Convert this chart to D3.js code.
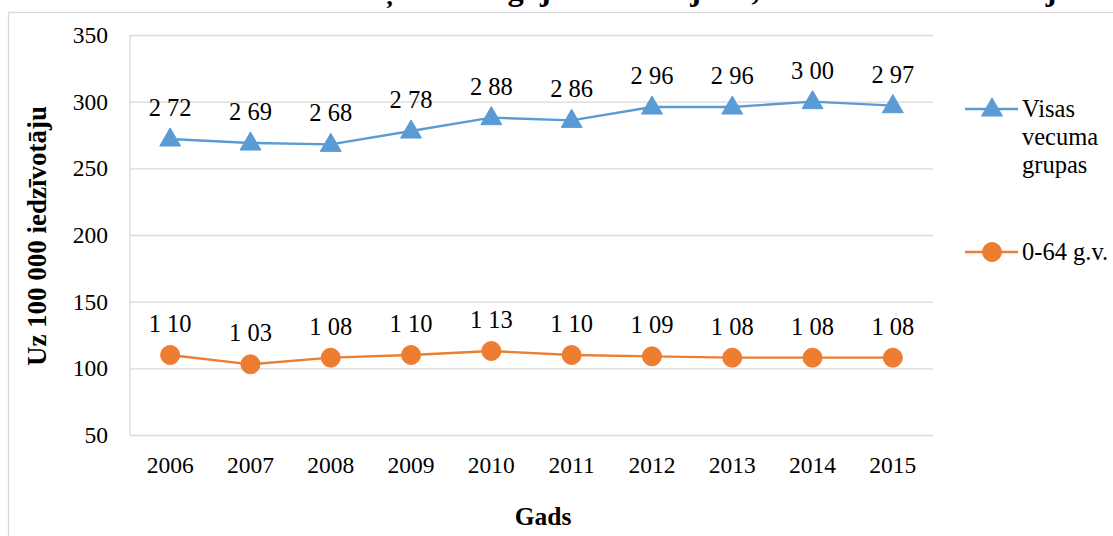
<!DOCTYPE html>
<html>
<head>
<meta charset="utf-8">
<script src="https://cdn.jsdelivr.net/npm/d3@7"></script>
<style>
  html, body { margin: 0; padding: 0; background: #fff; overflow: hidden; }
  svg { display: block; font-family: "Liberation Serif", "Times New Roman", serif; }
</style>
</head>
<body>
<svg id="chart" width="1113" height="536"></svg>
<script>
// Mortality per 100 000 inhabitants, by year
const years = ["2006", "2007", "2008", "2009", "2010", "2011", "2012", "2013", "2014", "2015"];
const allAges = [272, 269, 268, 278, 288, 286, 296, 296, 300, 297];
const allAgesLabels = ["2 72", "2 69", "2 68", "2 78", "2 88", "2 86", "2 96", "2 96", "3 00", "2 97"];
const under65 = [110, 103, 108, 110, 113, 110, 109, 108, 108, 108];
const under65Labels = ["1 10", "1 03", "1 08", "1 10", "1 13", "1 10", "1 09", "1 08", "1 08", "1 08"];
const yTicks = [50, 100, 150, 200, 250, 300, 350];
const seriesNames = [["Visas", "vecuma", "grupas"], ["0-64 g.v."]];
const titleText = "Mirstība no ļaundabīgajiem audzējiem, uz 100 000 iedzīvotāju";

const svg = d3.select("#chart");
const W = 1113, H = 536;
const plot = { left: 130, right: 933, top: 35, bottom: 435 };
const FS = 23.5;
const SERIF = "Liberation Serif, Times New Roman, serif";

// outer chart frame
svg.append("rect")
  .attr("x", 8.5).attr("y", 12.5)
  .attr("width", W + 10).attr("height", H + 10)
  .attr("fill", "#fff").attr("stroke", "#d9d9d9").attr("stroke-width", 1.3);

// title, set above the frame so only its descenders reach into view
const title = svg.append("text")
  .attr("x", 0).attr("y", 0)
  .attr("font-size", 28).attr("font-weight", "bold")
  .text(titleText);
{
  const node = title.node();
  const iL = titleText.indexOf("ļ");
  const iJ = titleText.lastIndexOf("j");
  const pL = node.getStartPositionOfChar(iL).x;
  const pJ = node.getStartPositionOfChar(iJ).x;
  const fs = 28 * (1046 - 385) / (pJ - pL);
  title.attr("font-size", fs);
  const qL = node.getStartPositionOfChar(iL).x;
  title.attr("x", 385 - qL);
}

const x = d3.scaleBand().domain(years).range([plot.left, plot.right]);
const y = d3.scaleLinear().domain([50, 350]).range([plot.bottom, plot.top]);
const cx = d => x(d) + x.bandwidth() / 2;

// horizontal gridlines
svg.append("g")
  .attr("transform", `translate(${plot.left},0)`)
  .call(d3.axisLeft(y).tickValues(yTicks).tickSize(-(plot.right - plot.left)).tickFormat(""))
  .call(g => g.select(".domain").remove())
  .call(g => g.selectAll("line").attr("stroke", "#d9d9d9").attr("stroke-width", 1.3));

// left plot border
svg.append("line")
  .attr("x1", plot.left).attr("x2", plot.left)
  .attr("y1", plot.top).attr("y2", plot.bottom)
  .attr("stroke", "#d9d9d9").attr("stroke-width", 1.3);

// y tick labels
svg.append("g")
  .attr("transform", `translate(${plot.left},0)`)
  .call(d3.axisLeft(y).tickValues(yTicks).tickSize(0).tickPadding(22))
  .call(g => g.attr("font-family", SERIF).select(".domain").remove())
  .call(g => g.selectAll("text")
    .attr("font-family", SERIF)
    .attr("font-size", FS).attr("fill", "#000"));

// x tick labels
svg.append("g")
  .attr("transform", `translate(0,${plot.bottom})`)
  .call(d3.axisBottom(x).tickSize(0).tickPadding(21))
  .call(g => g.attr("font-family", SERIF).select(".domain").remove())
  .call(g => g.selectAll("text")
    .attr("font-family", SERIF)
    .attr("font-size", FS).attr("fill", "#000"));

// axis titles
svg.append("text")
  .attr("x", 543).attr("y", 525)
  .attr("text-anchor", "middle")
  .attr("font-size", 25.5).attr("font-weight", "bold")
  .text("Gads");

svg.append("text")
  .attr("transform", "translate(46,236) rotate(-90)")
  .attr("text-anchor", "middle")
  .attr("font-size", 27).attr("font-weight", "bold")
  .text("Uz 100 000 iedzīvotāju");

const line = d3.line().x((d, i) => cx(years[i])).y(d => y(d));
const triangle = d3.symbol().type(d3.symbolTriangle).size(190);

const series = [
  { values: allAges, labels: allAgesLabels, color: "#5b9bd5", marker: "tri" },
  { values: under65, labels: under65Labels, color: "#ed7d31", marker: "circ" }
];

function drawMarker(g, s, px, py) {
  if (s.marker === "tri") {
    g.append("path")
      .attr("d", triangle())
      .attr("transform", `translate(${px},${py + 1})`)
      .attr("fill", s.color).attr("stroke", s.color).attr("stroke-width", 1);
  } else {
    g.append("circle")
      .attr("cx", px).attr("cy", py).attr("r", 9.5)
      .attr("fill", s.color).attr("stroke", s.color).attr("stroke-width", 1);
  }
}

series.forEach(s => {
  const g = svg.append("g");
  g.append("path")
    .datum(s.values)
    .attr("d", line)
    .attr("fill", "none").attr("stroke", s.color).attr("stroke-width", 2.4);
  s.values.forEach((v, i) => drawMarker(g, s, cx(years[i]), y(v)));
  g.selectAll("text.lbl")
    .data(s.values)
    .join("text")
    .attr("class", "lbl")
    .attr("x", (d, i) => cx(years[i]))
    .attr("y", d => y(d) - 23)
    .attr("text-anchor", "middle")
    .attr("font-size", 24.5).attr("fill", "#000")
    .text((d, i) => s.labels[i]);
});

// legend
const legendY = [109, 252];
series.forEach((s, k) => {
  const g = svg.append("g");
  const ly = legendY[k];
  g.append("line")
    .attr("x1", 965).attr("x2", 1018).attr("y1", ly).attr("y2", ly)
    .attr("stroke", s.color).attr("stroke-width", 2.4);
  drawMarker(g, s, 992, ly);
  seriesNames[k].forEach((t, j) => {
    g.append("text")
      .attr("x", 1022).attr("y", ly + 8 + j * 28)
      .attr("font-size", 24.5).attr("fill", "#000")
      .text(t);
  });
});
</script>
</body>
</html>
